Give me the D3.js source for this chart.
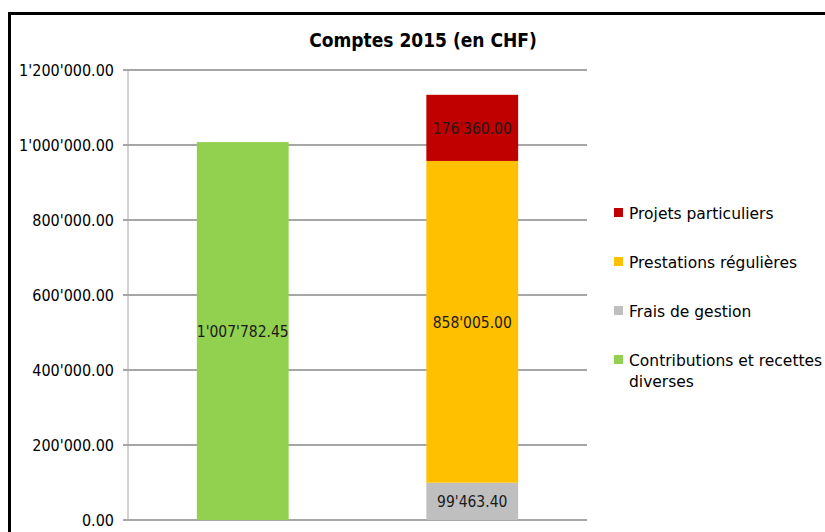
<!DOCTYPE html>
<html>
<head>
<meta charset="utf-8">
<script src="https://cdn.jsdelivr.net/npm/d3@7"></script>
<style>
  body { margin: 0; background: #fff; }
  svg text { font-family: "DejaVu Sans Condensed", "DejaVu Sans", sans-serif; }
</style>
</head>
<body>
<div id="viz"></div>
<script>
// chart data
const categories = ['Recettes', 'Dépenses'];
const seriesNames = ['Contributions et recettes diverses', 'Frais de gestion', 'Prestations régulières', 'Projets particuliers'];
const seriesColors = ['#92D050', '#BFBFBF', '#FFC000', '#C00000'];
const contributions = [1007782.45, 0];
const fraisGestion = [0, 99463.40];
const prestations = [0, 858005.00];
const projets = [0, 176360.00];
const yTicks = [0, 200000, 400000, 600000, 800000, 1000000, 1200000];

const w = 825;
const h = 532;

const svg = d3.select('#viz').
append('svg').
attr('width', w).
attr('height', h);

// outer frame (only left and top are visible in the shot)
svg.append('path').
attr('d', 'M9.5,532 L9.5,13.5 L825,13.5').
attr('fill', 'none').
attr('stroke', '#000').
attr('stroke-width', 3);

svg.append('text').
attr('x', 423).
attr('y', 47).
attr('text-anchor', 'middle').
style('font-size', '19px').
style('font-weight', 'bold').
text('Comptes 2015 (en CHF)');

const fmt = v => {
  let s = d3.format(',.2f')(v);
  return s.replace(/,/g, "'");
};

const xScale = d3.scaleBand().
domain(categories).
range([128, 587]).
paddingInner(0.6).
paddingOuter(0.3);

const yScale = d3.scaleLinear().
domain([0, 1200000]).
range([520, 70]);

// gridlines
svg.append('g').
selectAll('line').
data(yTicks).
enter().
append('line').
attr('x1', 123).
attr('x2', 587).
attr('y1', d => yScale(d)).
attr('y2', d => yScale(d)).
attr('stroke', '#a6a6a6').
attr('stroke-width', 2);

const yAxis = d3.axisLeft(yScale).
tickValues(yTicks).
tickFormat(fmt).
tickSize(5);

const yG = svg.append('g').
attr('transform', 'translate(128, 0)').
attr('id', 'y-axis').
call(yAxis);

yG.select('.domain').attr('stroke', '#a6a6a6').attr('d', 'M0,70V520');
yG.selectAll('.tick line').attr('stroke', '#a6a6a6');
yG.selectAll('.tick text').
attr('x', -14).
attr('fill', '#000').
style('font-size', '16px').
style('font-family', '"DejaVu Sans Condensed", sans-serif');

// stacked bars
const rows = categories.map((c, i) => ({
  cat: c,
  s0: contributions[i],
  s1: fraisGestion[i],
  s2: prestations[i],
  s3: projets[i]
}));

const stack = d3.stack().keys(['s0', 's1', 's2', 's3']);
const layers = stack(rows);

const layerG = svg.selectAll('.layer').
data(layers).
enter().
append('g').
attr('class', 'layer').
attr('fill', (d, i) => seriesColors[i]);

layerG.selectAll('rect').
data(d => d.filter(p => p[1] - p[0] > 0)).
enter().
append('rect').
attr('x', d => xScale(d.data.cat)).
attr('width', xScale.bandwidth()).
attr('y', d => yScale(d[1])).
attr('height', d => yScale(d[0]) - yScale(d[1]));

layerG.selectAll('text').
data(d => d.filter(p => p[1] - p[0] > 0)).
enter().
append('text').
attr('x', d => xScale(d.data.cat) + xScale.bandwidth() / 2).
attr('y', d => (yScale(d[0]) + yScale(d[1])) / 2 + 6).
attr('text-anchor', 'middle').
attr('fill', '#1a1a1a').
style('font-size', '15.5px').
text(d => fmt(d[1] - d[0]));

// legend
const legendOrder = [3, 2, 1, 0];
const legendY = [213, 262, 311, 360];

const legend = svg.selectAll('.legend').
data(legendOrder).
enter().
append('g').
attr('class', 'legend').
attr('transform', (d, i) => 'translate(614, ' + legendY[i] + ')');

legend.append('rect').
attr('x', 0).
attr('y', -5).
attr('width', 9).
attr('height', 9).
attr('fill', d => seriesColors[d]);

legend.append('text').
attr('x', 15).
attr('y', 6).
attr('fill', '#000').
style('font-size', '15.5px').
style('font-family', '"DejaVu Sans", sans-serif').
each(function (d) {
  const t = d3.select(this);
  if (d === 0) {
    t.append('tspan').attr('x', 15).text('Contributions et recettes');
    t.append('tspan').attr('x', 15).attr('dy', 21).text('diverses');
  } else {
    t.text(seriesNames[d]);
  }
});
</script>
</body>
</html>
